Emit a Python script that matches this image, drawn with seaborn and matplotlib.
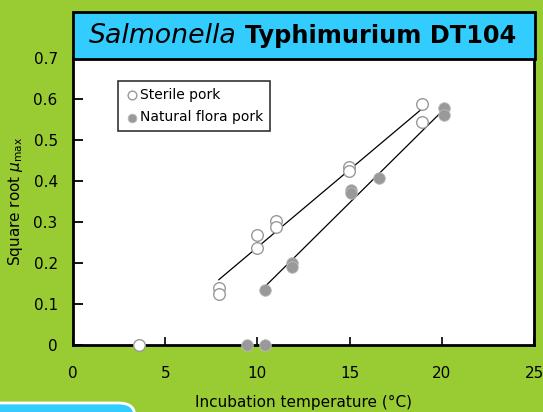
import numpy as np
import pandas as pd
import seaborn as sns
import matplotlib.pyplot as plt
from matplotlib.patches import FancyBboxPatch, Rectangle

# valores
sterile_temp = [3.6, 7.9, 7.9, 10.0, 10.0, 11.0, 11.0, 14.95, 14.95, 18.95, 18.95]
sterile_mu = [0.0, 0.140, 0.125, 0.269, 0.236, 0.302, 0.288, 0.435, 0.424, 0.589, 0.544]

natural_temp = [9.45, 10.4, 10.4, 11.9, 11.9, 15.1, 15.1, 16.6, 20.1, 20.1]
natural_mu = [0.0, 0.0, 0.135, 0.200, 0.190, 0.377, 0.370, 0.407, 0.577, 0.560]

# retas ajustadas (extremos)
sterile_fit_x = [7.9, 18.95]
sterile_fit_y = [0.159, 0.577]
natural_fit_x = [10.4, 20.1]
natural_fit_y = [0.142, 0.574]

x_ticks = [0, 5, 10, 15, 20, 25]
y_ticks = [0, 0.1, 0.2, 0.3, 0.4, 0.5, 0.6, 0.7]
y_tick_labels = ['0', '0.1', '0.2', '0.3', '0.4', '0.5', '0.6', '0.7']

green = '#99CC33'
cyan = '#33CCFF'
grey = '#999999'

sns.set_theme(style='white')
plt.rcParams['font.family'] = ['DejaVu Sans']
plt.rcParams['text.color'] = 'black'
plt.rcParams['axes.labelcolor'] = 'black'
plt.rcParams['xtick.color'] = 'black'
plt.rcParams['ytick.color'] = 'black'
plt.rcParams['xtick.bottom'] = True
plt.rcParams['ytick.left'] = True
plt.rcParams['xtick.direction'] = 'in'
plt.rcParams['ytick.direction'] = 'in'

df_s = pd.DataFrame({'temp': sterile_temp, 'mu': sterile_mu})
df_n = pd.DataFrame({'temp': natural_temp, 'mu': natural_mu})

fig = plt.figure(figsize=(5.43, 4.12), dpi=100, facecolor=green)
ax = fig.add_axes([73/543, 1 - 345/412, 461/543, 287/412])
ax.set_facecolor('white')

# retas de regressão
ax.plot(sterile_fit_x, sterile_fit_y, color='black', lw=0.9, zorder=2)
ax.plot(natural_fit_x, natural_fit_y, color='black', lw=0.9, zorder=2)

sns.scatterplot(data=df_s, x='temp', y='mu', ax=ax, s=70, marker='o',
                facecolor='white', edgecolor=grey, linewidth=1.0,
                clip_on=False, zorder=3, label='Sterile pork')
sns.scatterplot(data=df_n, x='temp', y='mu', ax=ax, s=70, marker='o',
                color=grey, edgecolor='#bbbbbb', linewidth=0.6,
                clip_on=False, zorder=3, label='Natural flora pork')

ax.set_xlim(0, 25)
ax.set_ylim(0, 0.7)
ax.set_xticks(x_ticks)
ax.set_yticks(y_ticks)
ax.set_yticklabels(y_tick_labels)
ax.tick_params(axis='x', which='major', direction='in', length=6, width=1.2,
               pad=15, labelsize=11, bottom=True, colors='black')
ax.tick_params(axis='y', which='major', direction='in', length=7, width=1.3,
               pad=11, labelsize=11, left=True, colors='black')
for sp in ax.spines.values():
    sp.set_color('black')
    sp.set_linewidth(2)

ax.set_xlabel('Incubation temperature (°C)', fontsize=11, labelpad=10)
ax.set_ylabel(r'Square root $\mu_{\rm max}$', fontsize=11, labelpad=6)

leg = ax.legend(loc='upper left', bbox_to_anchor=(0.097, 0.92),
                fontsize=10, frameon=True, fancybox=False, markerscale=0.75,
                handletextpad=0.1, handlelength=1.0, borderpad=0.5,
                labelspacing=0.6, borderaxespad=0)
leg.get_frame().set_edgecolor('black')
leg.get_frame().set_linewidth(1.2)
for t in leg.get_texts():
    t.set_color('black')

# caixa do título
fig.patches.append(Rectangle((73/543, 1 - 59/412), 462/543, 47/412,
                             transform=fig.transFigure, facecolor=cyan,
                             edgecolor='black', linewidth=2, zorder=5))
fig.text(0.436, 1 - 36/412, 'Salmonella', style='italic', fontsize=19.3,
         ha='right', va='center', zorder=6, color='black')
fig.text(0.451, 1 - 36/412, 'Typhimurium DT104', fontweight='bold',
         fontsize=17.3, ha='left', va='center', zorder=6, color='black')

# caixa azul no canto inferior
fig.patches.append(FancyBboxPatch((-0.1, -0.1), 0.348, 0.1 + 9/412,
                                  boxstyle='round,pad=0,rounding_size=0.03',
                                  transform=fig.transFigure, facecolor=cyan,
                                  edgecolor='white', linewidth=2, zorder=1))

fig.savefig('out.png', dpi=100, facecolor=green)
